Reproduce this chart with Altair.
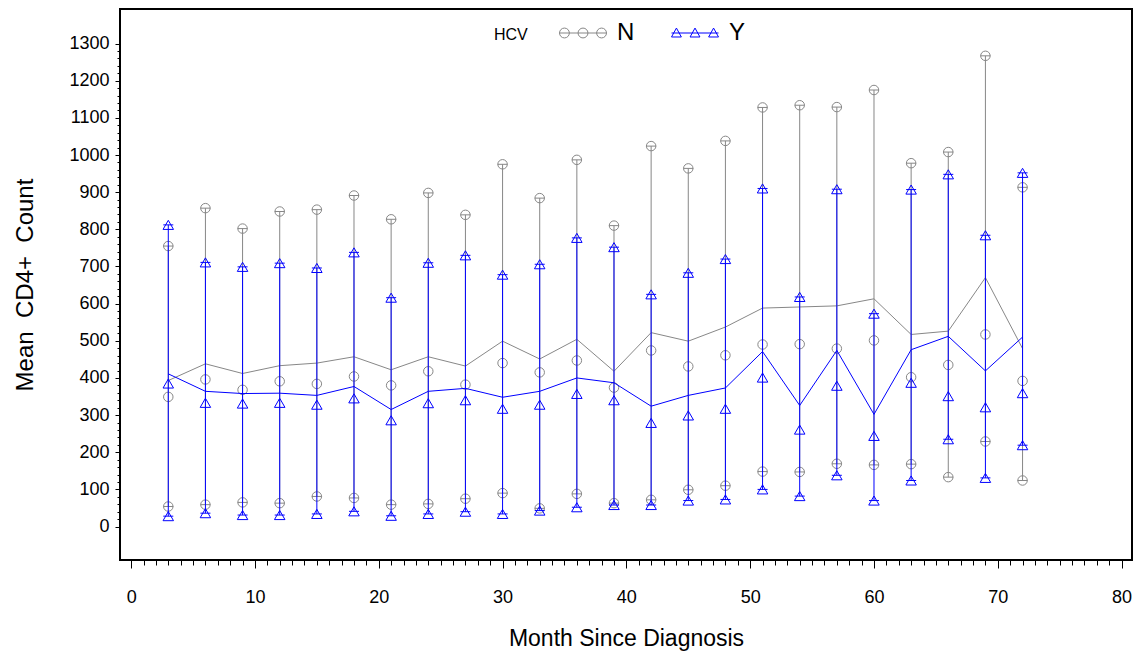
import altair as alt
import pandas as pd

# ---- data ----
months = [3, 6, 9, 12, 15, 18, 21, 24, 27, 30, 33, 36, 39, 42, 45, 48, 51, 54, 57, 60, 63, 66, 69, 72]

n_high = [755, 857, 802, 848, 853, 891, 827, 898, 839, 975, 884, 987, 810, 1024, 964, 1038, 1128, 1134, 1129, 1175, 978, 1008, 1267, 913]
n_mid = [349, 396, 368, 391, 384, 404, 380, 418, 382, 440, 415, 447, 374, 474, 431, 461, 490, 491, 479, 501, 402, 435, 517, 392]
n_low = [54, 59, 65, 63, 81, 77, 59, 61, 75, 90, 49, 88, 63, 72, 99, 110, 148, 147, 169, 166, 168, 133, 229, 124]
n_mean = [393, 438, 412, 433, 440, 457, 422, 457, 432, 499, 451, 504, 418, 522, 499, 537, 588, 591, 594, 613, 517, 526, 670, 479]

y_high = [812, 711, 699, 709, 696, 738, 616, 710, 730, 678, 706, 777, 752, 625, 683, 720, 910, 618, 908, 573, 907, 948, 784, 952]
y_mid = [385, 333, 331, 333, 328, 345, 286, 332, 340, 317, 328, 357, 340, 279, 299, 317, 401, 261, 379, 244, 387, 351, 321, 359]
y_low = [28, 36, 31, 31, 34, 41, 29, 34, 40, 34, 43, 52, 58, 58, 70, 73, 100, 82, 138, 70, 124, 235, 131, 219]
y_mean = [411, 364, 358, 359, 353, 377, 315, 364, 372, 348, 364, 400, 387, 324, 353, 373, 471, 326, 474, 302, 476, 512, 419, 510]

series = ["N", "Y"]

rows = []
for i, m in enumerate(months):
    rows.append(dict(month=m, HCV="N", low=n_low[i], mid=n_mid[i], high=n_high[i], mean=n_mean[i]))
for i, m in enumerate(months):
    rows.append(dict(month=m, HCV="Y", low=y_low[i], mid=y_mid[i], high=y_high[i], mean=y_mean[i]))
df = pd.DataFrame(rows)

FONT = "Liberation Sans"
GRAY = "#878787"
BLUE = "#0000ff"

x_axis = alt.Axis(
    values=list(range(0, 81)),
    labelExpr="datum.value % 10 === 0 ? datum.label : ''",
    tickSize={"condition": {"test": "datum.value % 10 === 0", "value": 8}, "value": 5},
    tickColor="black", tickWidth=1, domain=False, grid=False,
    labelFont=FONT, labelFontSize=18, labelColor="black", labelPadding=20,
    labelOverlap=False, labelFlush=False, format="d",
    title="Month Since Diagnosis", titleFont=FONT, titleFontSize=23,
    titleFontWeight="normal", titleColor="black", titleY=85, titleBaseline="alphabetic",
)
y_axis = alt.Axis(
    values=list(range(0, 1301, 20)),
    labelExpr="datum.value % 100 === 0 ? datum.label : ''",
    tickSize={"condition": {"test": "datum.value % 100 === 0", "value": 5}, "value": 3},
    tickColor="black", tickWidth=1, domain=False, grid=False,
    labelFont=FONT, labelFontSize=18, labelColor="black", labelPadding=6,
    labelOverlap=False, labelFlush=False, format="d",
    title="Mean\u00a0\u00a0CD4+\u00a0\u00a0Count", titleFont=FONT, titleFontSize=24,
    titleFontWeight="normal", titleColor="black", titleX=-88, titleY=275.5,
    titleBaseline="alphabetic",
)
x_scale = alt.Scale(domain=[-0.9, 80.84], nice=False, zero=False)
y_scale = alt.Scale(domain=[-90, 1393], nice=False, zero=False)


def X():
    return alt.X("month:Q", scale=x_scale, axis=x_axis)


def Y(field):
    return alt.Y(field, scale=y_scale, axis=y_axis)


def series_layers(name, shape, color, size):
    base = alt.Chart(df).transform_filter(f"datum.HCV === '{name}'")
    rule = base.mark_rule(color=color, strokeWidth=1).encode(
        x=X(), y=Y("low:Q"), y2="high:Q")
    ticks = base.transform_fold(["low", "high"], as_=["stat", "val"]).mark_tick(
        orient="horizontal", size=10, thickness=1, color=color, opacity=1).encode(
        x=X(), y=Y("val:Q"))
    pts = base.transform_fold(["low", "mid", "high"], as_=["stat", "val"]).mark_point(
        shape=shape, filled=False, size=size, color=color, strokeWidth=1, opacity=1).encode(
        x=X(), y=Y("val:Q"))
    line = base.mark_line(color=color, strokeWidth=1).encode(x=X(), y=Y("mean:Q"))
    return [rule, ticks, pts, line]


def circ(cx, r):
    return f"M{cx - r:.3f},0A{r},{r} 0 1,0 {cx + r:.3f},0A{r},{r} 0 1,0 {cx - r:.3f},0"


def tri(cx):
    return f"M{cx:.3f},-0.21L{cx - 0.21:.3f},0.17L{cx + 0.21:.3f},0.17Z"


path_n = "M-1,0L1,0" + "".join(circ(c, 0.21) for c in (-0.79, 0, 0.79))
path_y = "M-1,0L1,0" + "".join(tri(c) for c in (-0.79, 0, 0.79))

leg = alt.Legend(
    title="HCV", orient="none", legendX=374, legendY=0, direction="horizontal",
    titleOrient="left", titleAnchor="middle", titleBaseline="top",
    titleFont=FONT, titleFontSize=16, titleFontWeight="normal",
    titleColor="black", labelFont=FONT, labelFontSize=24, labelColor="black",
    symbolSize=2209, symbolStrokeWidth=1, labelOffset=10, columnPadding=34,
    titlePadding=31,
)

legend_layer = alt.Chart(df).mark_point(
    filled=False, size=2209, clip=True, strokeWidth=1, opacity=1).encode(
    x=X(), y=alt.value(-300),
    color=alt.Color("HCV:N", scale=alt.Scale(domain=series, range=[GRAY, BLUE]), legend=leg),
    shape=alt.Shape("HCV:N", scale=alt.Scale(domain=series, range=[path_n, path_y]), legend=leg),
)

layers = series_layers("N", "circle", GRAY, 90) + series_layers("Y", "triangle-up", BLUE, 110) + [legend_layer]

chart = alt.layer(*layers).properties(
    width=1012, height=551,
    background="white",
    autosize=alt.AutoSizeParams(type="none"),
    padding={"left": 120, "top": 9, "right": 6, "bottom": 100},
).configure_view(stroke="black", strokeWidth=2)

chart.save("out.html", embed_options={"renderer": "svg", "actions": False})
